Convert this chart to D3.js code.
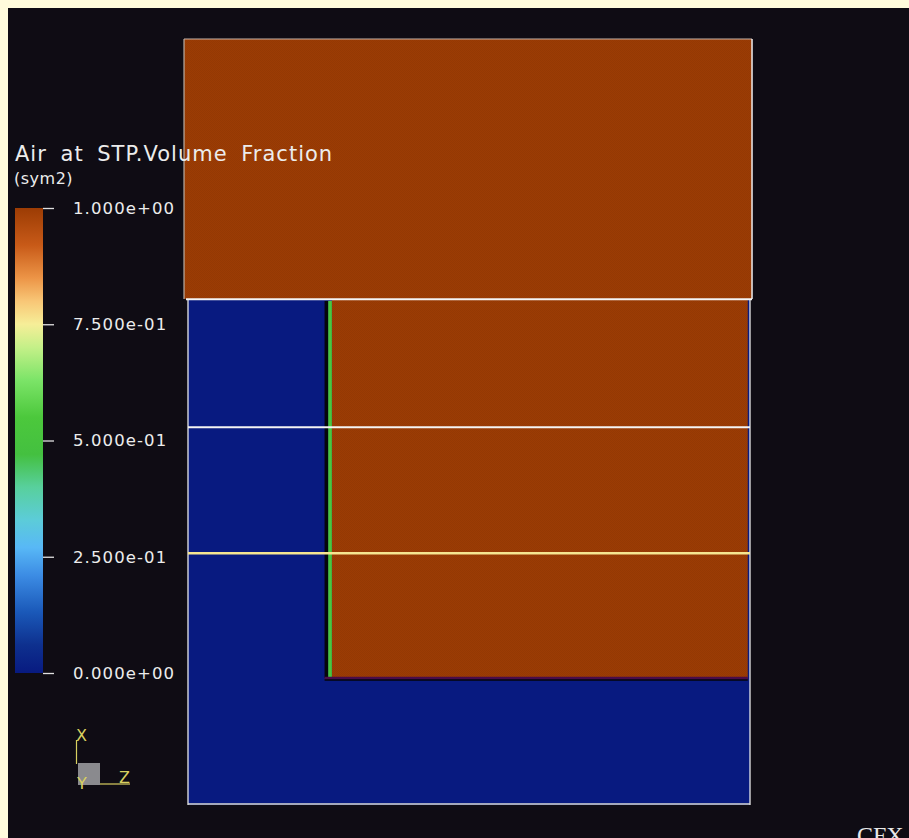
<!DOCTYPE html>
<html>
<head>
<meta charset="utf-8">
<script src="https://cdn.jsdelivr.net/npm/d3@7/dist/d3.min.js"></script>
<style>
  html, body { margin: 0; padding: 0; background: #fffbdc; }
  svg { display: block; }
</style>
</head>
<body>
<svg id="view" width="909" height="838"></svg>
<script>
// Legend ticks for the volume fraction
const tickValues = [0, 0.25, 0.5, 0.75, 1.0];
const tickLabels = ["0.000e+00", "2.500e-01", "5.000e-01", "7.500e-01", "1.000e+00"];

// Colour map stops (value -> colour)
const mapStops = [0.00, 0.06, 0.13, 0.21, 0.27, 0.33, 0.40, 0.47, 0.55, 0.63, 0.70, 0.75, 0.80, 0.85, 0.92, 1.00];
const mapColors = ["#081a80", "#0e308e", "#1a58b8", "#3c8ce4", "#58b8f6", "#5cccd8", "#58d09c", "#44c040",
                   "#4cc83c", "#7ce468", "#c4f088", "#f6ee98", "#f8c676", "#ec9446", "#c85a18", "#9c3c04"];

// Fluid regions: model coordinates (z across, x up) and air volume fraction
const regionNames = ["upper block", "lower domain", "air pocket"];
const regionZ0 = [-0.71, 0.0, 25.6];
const regionZ1 = [100.36, 100.0, 99.6];
const regionX0 = [90.05, 0.0, 22.55];
const regionX1 = [136.3, 89.95, 89.9];
const regionValue = [1.0, 0.0, 1.0];

// Free-surface interface band along the pocket wall
const interfaceZ = [24.3, 24.95, 25.6];
const interfaceValue = [0.02, 0.54];
const interfaceX0 = 22.6;
const interfaceX1 = 89.7;

// Horizontal plane traces (model x) and their values
const planeX = [90.0, 67.2, 44.8];
const planeValue = [null, null, 0.76];

const svg = d3.select("#view");
const W = 909, H = 838;

// dark viewport
svg.append("rect").attr("x", 8).attr("y", 8).attr("width", W - 8).attr("height", H - 8).attr("fill", "#0f0c14");

const colour = d3.scaleLinear().domain(mapStops).range(mapColors).interpolate(d3.interpolateRgb).clamp(true);
const zScale = d3.scaleLinear().domain([0, 100]).range([188, 750]);
const xScale = d3.scaleLinear().domain([0, 136.3]).range([805, 39]);

// fine dither texture over surfaces
const defs = svg.append("defs");
const pat = defs.append("pattern").attr("id", "dither").attr("width", 2).attr("height", 2).attr("patternUnits", "userSpaceOnUse");
pat.append("rect").attr("x", 0).attr("y", 0).attr("width", 1).attr("height", 1).attr("fill", "#000").attr("opacity", 0.05);
pat.append("rect").attr("x", 1).attr("y", 1).attr("width", 1).attr("height", 1).attr("fill", "#000").attr("opacity", 0.05);

const regions = regionNames.map((n, i) => ({
  name: n, z0: regionZ0[i], z1: regionZ1[i], x0: regionX0[i], x1: regionX1[i], v: regionValue[i]
}));

const g = svg.append("g");
// each region: flat fill, then its dither layer
const cells = g.selectAll("g.region").data(regions).join("g").attr("class", "region");
cells.append("rect")
  .attr("x", d => zScale(d.z0))
  .attr("y", d => xScale(d.x1))
  .attr("width", d => zScale(d.z1) - zScale(d.z0))
  .attr("height", d => xScale(d.x0) - xScale(d.x1))
  .attr("fill", d => colour(d.v));
cells.filter((d, i) => i !== 1).append("rect")
  .attr("x", d => zScale(d.z0))
  .attr("y", d => xScale(d.x1))
  .attr("width", d => zScale(d.z1) - zScale(d.z0))
  .attr("height", d => xScale(d.x0) - xScale(d.x1))
  .attr("fill", "url(#dither)");

// interface band
const bands = interfaceValue.map((v, i) => ({ z0: interfaceZ[i], z1: interfaceZ[i + 1], v }));
g.selectAll("rect.band").data(bands).join("rect")
  .attr("x", d => zScale(d.z0))
  .attr("y", xScale(interfaceX1))
  .attr("width", d => zScale(d.z1) - zScale(d.z0))
  .attr("height", xScale(interfaceX0) - xScale(interfaceX1))
  .attr("fill", (d, i) => i === 0 ? "#06060c" : colour(d.v));

// dark rim under the air pocket
const pocket = regions[2];
g.append("rect")
  .attr("x", zScale(interfaceZ[0])).attr("y", xScale(pocket.x0) - 1.5)
  .attr("width", zScale(pocket.z1) - zScale(interfaceZ[0])).attr("height", 3)
  .attr("fill", "#4a0c48");
g.append("rect")
  .attr("x", zScale(interfaceZ[0])).attr("y", xScale(pocket.x0) + 1)
  .attr("width", zScale(pocket.z1) - zScale(interfaceZ[0])).attr("height", 1.5)
  .attr("fill", "#06060c");

// domain outlines
const upper = regions[0], low = regions[1];
g.append("line").attr("x1", zScale(upper.z0)).attr("x2", zScale(upper.z1)).attr("y1", xScale(upper.x1)).attr("y2", xScale(upper.x1))
  .attr("stroke", "#c8b4a8").attr("stroke-width", 1.2);
g.append("line").attr("x1", zScale(upper.z0)).attr("x2", zScale(upper.z0)).attr("y1", xScale(upper.x1)).attr("y2", xScale(upper.x0))
  .attr("stroke", "#b8b0a8").attr("stroke-width", 1.2);
g.append("line").attr("x1", zScale(upper.z1)).attr("x2", zScale(upper.z1)).attr("y1", xScale(upper.x1)).attr("y2", xScale(upper.x0))
  .attr("stroke", "#eeeeee").attr("stroke-width", 1.5);
g.append("line").attr("x1", zScale(low.z0)).attr("x2", zScale(low.z0)).attr("y1", xScale(low.x1)).attr("y2", xScale(low.x0))
  .attr("stroke", "#e8e8e8").attr("stroke-width", 1.3);
g.append("line").attr("x1", zScale(low.z1)).attr("x2", zScale(low.z1)).attr("y1", xScale(low.x1)).attr("y2", xScale(low.x0))
  .attr("stroke", "#e8e8e8").attr("stroke-width", 1.3);
g.append("line").attr("x1", zScale(low.z0)).attr("x2", zScale(low.z1)).attr("y1", xScale(low.x0) - 1).attr("y2", xScale(low.x0) - 1)
  .attr("stroke", "#d8d8d0").attr("stroke-width", 1.5);

// plane traces
g.selectAll("line.plane").data(planeX).join("line")
  .attr("class", "plane")
  .attr("x1", (d, i) => i === 0 ? zScale(upper.z0) + 2 : zScale(0))
  .attr("x2", (d, i) => i === 0 ? zScale(upper.z1) : zScale(100))
  .attr("y1", d => xScale(d)).attr("y2", d => xScale(d))
  .attr("stroke", (d, i) => planeValue[i] === null ? "#f4f4f4" : colour(planeValue[i]))
  .attr("stroke-width", (d, i) => i === 2 ? 2.5 : 2);

// colour legend
const legY = d3.scaleLinear().domain([0, 1]).range([673, 208]);
const grad = defs.append("linearGradient").attr("id", "legendGrad").attr("x1", 0).attr("y1", 1).attr("x2", 0).attr("y2", 0);
grad.selectAll("stop").data(mapStops).join("stop")
  .attr("offset", d => d).attr("stop-color", (d, i) => mapColors[i]);
svg.append("rect").attr("x", 15).attr("y", legY(1)).attr("width", 28).attr("height", legY(0) - legY(1))
  .attr("fill", "url(#legendGrad)");

const legAxis = d3.axisRight(legY).tickValues(tickValues).tickSize(11).tickPadding(19)
  .tickFormat((d, i) => tickLabels[i]);
const axG = svg.append("g").attr("transform", "translate(43,0)").call(legAxis);
axG.select(".domain").remove();
axG.selectAll(".tick line").attr("stroke", "#e0e0e0").attr("stroke-width", 1.3);
axG.selectAll(".tick text")
  .attr("fill", "#ececec")
  .style("font-family", "'DejaVu Sans', sans-serif")
  .style("font-size", "16.5px")
  .style("letter-spacing", "1.1px");

svg.append("text").attr("x", 15).attr("y", 161)
  .attr("fill", "#ececec")
  .style("font-family", "'DejaVu Sans', sans-serif")
  .style("font-size", "21px")
  .style("letter-spacing", "1px")
  .style("word-spacing", "6px")
  .text("Air at STP.Volume Fraction");
svg.append("text").attr("x", 14).attr("y", 184)
  .attr("fill", "#ececec")
  .style("font-family", "'DejaVu Sans', sans-serif")
  .style("font-size", "16px")
  .style("letter-spacing", "0.5px")
  .text("(sym2)");

// orientation triad
const tri = svg.append("g");
const yellow = "#d8d060";
tri.append("rect").attr("x", 78).attr("y", 763).attr("width", 22).attr("height", 22).attr("fill", "#8a8a8e");
tri.append("line").attr("x1", 76.5).attr("x2", 76.5).attr("y1", 740).attr("y2", 764).attr("stroke", yellow).attr("stroke-width", 1.2);
tri.append("line").attr("x1", 100).attr("x2", 130).attr("y1", 784).attr("y2", 784).attr("stroke", yellow).attr("stroke-width", 1.2);
tri.append("text").attr("x", 76).attr("y", 741).text("X");
tri.append("text").attr("x", 77).attr("y", 789).text("Y");
tri.append("text").attr("x", 119).attr("y", 783).text("Z");
tri.selectAll("text").attr("fill", yellow).style("font-family", "'DejaVu Sans', sans-serif").style("font-size", "16px");

svg.append("text").attr("x", 857).attr("y", 843)
  .attr("fill", "#e8e8e8")
  .style("font-family", "'Liberation Serif', serif")
  .style("font-size", "24px")
  .text("CFX");
</script>
</body>
</html>
